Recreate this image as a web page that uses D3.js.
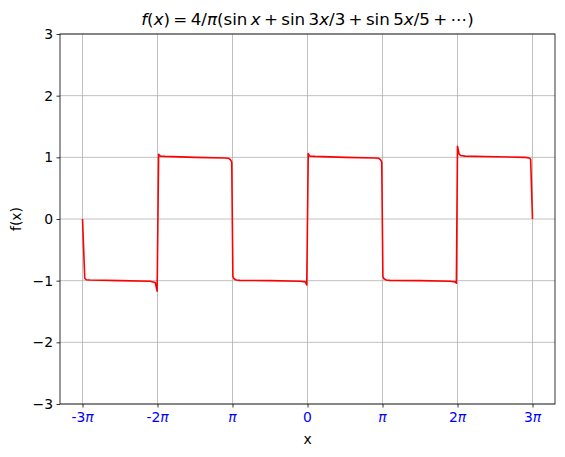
<!DOCTYPE html>
<html>
<head>
<meta charset="utf-8">
<script src="https://cdn.jsdelivr.net/npm/d3@7"></script>
<style>
  body { margin: 0; background: #fff; }
  svg { display: block; font-family: "DejaVu Sans", sans-serif; }
</style>
</head>
<body>
<svg id="chart" width="565" height="457"></svg>
<script>
// x values in units of pi, y values
const xPi = [-3.0, -2.97, -2.95, -2.9, -2.5, -2.1, -2.03, -2.005, -1.985, -1.965, -1.9, -1.5, -1.1, -1.05, -1.025, -1.01,
  -0.995, -0.98, -0.95, -0.9, -0.5, -0.1, -0.03, -0.01, 0.01, 0.03, 0.1, 0.5, 0.9, 0.95, 0.975, 0.99,
  1.005, 1.02, 1.05, 1.1, 1.5, 1.9, 1.97, 1.985, 2.0, 2.02, 2.04, 2.1, 2.5, 2.9, 2.96, 2.975, 3.0];
const yVals = [0.0, -0.96, -0.985, -0.99, -1.0, -1.01, -1.03, -1.17, 1.05, 1.02, 1.015, 1.0, 0.99, 0.985, 0.96, 0.92,
  -0.93, -0.97, -0.99, -0.995, -1.0, -1.01, -1.02, -1.07, 1.06, 1.02, 1.015, 1.0, 0.99, 0.985, 0.96, 0.92,
  -0.93, -0.97, -0.99, -0.995, -1.0, -1.01, -1.02, -1.04, 1.18, 1.06, 1.03, 1.02, 1.01, 1.0, 0.99, 0.97, 0.0];
const xTickPi = [-3, -2, -1, 0, 1, 2, 3];
const xTickPrefix = ["-3", "-2", "", "0", "", "2", "3"];
const xTickHasPi = [true, true, true, false, true, true, true];
const yTicks = [-3, -2, -1, 0, 1, 2, 3];

const svg = d3.select("#chart");
const L = 60, R = 555, T = 34, B = 404;
const PI = Math.PI;
const x = d3.scaleLinear().domain([-3.3 * PI, 3.3 * PI]).range([L, R]);
const y = d3.scaleLinear().domain([-3, 3]).range([B, T]);

// grid
const grid = svg.append("g");
xTickPi.forEach(t => {
  grid.append("line").attr("x1", x(t * PI)).attr("x2", x(t * PI)).attr("y1", T).attr("y2", B)
    .attr("stroke", "#b0b0b0").attr("stroke-width", 0.8);
});
yTicks.forEach(t => {
  grid.append("line").attr("x1", L).attr("x2", R).attr("y1", y(t)).attr("y2", y(t))
    .attr("stroke", "#b0b0b0").attr("stroke-width", 0.8);
});

// line
const pts = xPi.map((v, i) => [v * PI, yVals[i]]);
svg.append("path").datum(pts)
  .attr("d", d3.line().x(d => x(d[0])).y(d => y(d[1])))
  .attr("fill", "none").attr("stroke", "red").attr("stroke-width", 1.6)
  .attr("stroke-linejoin", "round");

// spines
svg.append("rect").attr("x", L).attr("y", T).attr("width", R - L).attr("height", B - T)
  .attr("fill", "none").attr("stroke", "black").attr("stroke-width", 0.8);

// x axis ticks
const xAxis = d3.axisBottom(x).tickValues(xTickPi.map(t => t * PI)).tickSize(3.5).tickPadding(3.5).tickFormat("");
const gx = svg.append("g").attr("transform", `translate(0,${B})`).call(xAxis);
gx.select(".domain").remove();
gx.selectAll(".tick line").attr("stroke", "black").attr("stroke-width", 0.8);
xTickPi.forEach((t, i) => {
  const txt = svg.append("text").attr("x", x(t * PI)).attr("y", B + 3.5 + 3.5 + 10.5)
    .attr("text-anchor", "middle").attr("font-size", "13.9px").attr("fill", "blue");
  txt.append("tspan").text(xTickPrefix[i]);
  if (xTickHasPi[i]) txt.append("tspan").attr("font-style", "italic").text("π");
});

// y axis
const yAxis = d3.axisLeft(y).tickValues(yTicks).tickSize(3.5).tickPadding(3.5)
  .tickFormat(d => d < 0 ? "\u2212" + Math.abs(d) : String(d));
const gy = svg.append("g").attr("transform", `translate(${L},0)`).call(yAxis);
gy.select(".domain").remove();
gy.selectAll(".tick line").attr("stroke", "black").attr("stroke-width", 0.8);
gy.selectAll(".tick text").attr("font-size", "13.9px").attr("fill", "black")
  .attr("font-family", "DejaVu Sans, sans-serif");

// labels
svg.append("text").attr("x", (L + R) / 2).attr("y", 444).attr("text-anchor", "middle")
  .attr("font-size", "13.9px").text("x");
svg.append("text").attr("transform", `translate(21,${(T + B) / 2}) rotate(-90)`)
  .attr("text-anchor", "middle").attr("font-size", "13.9px").text("f(x)");

// title (mathtext-like, thin spaces)
const sp = "\u2009";
const title = svg.append("text").attr("x", (L + R) / 2).attr("y", 25).attr("text-anchor", "middle")
  .attr("font-size", "16.7px");
const parts = [["f", 1], ["(", 0], ["x", 1], [")" + sp + "=" + sp + "4/", 0], ["π", 1], ["(sin" + sp, 0], ["x", 1],
  [sp + "+" + sp + "sin" + sp + "3", 0], ["x", 1], ["/3" + sp + "+" + sp + "sin" + sp + "5", 0], ["x", 1],
  ["/5" + sp + "+" + sp + "⋯)", 0]];
parts.forEach(p => {
  title.append("tspan").attr("font-style", p[1] ? "italic" : "normal").text(p[0]);
});
</script>
</body>
</html>
